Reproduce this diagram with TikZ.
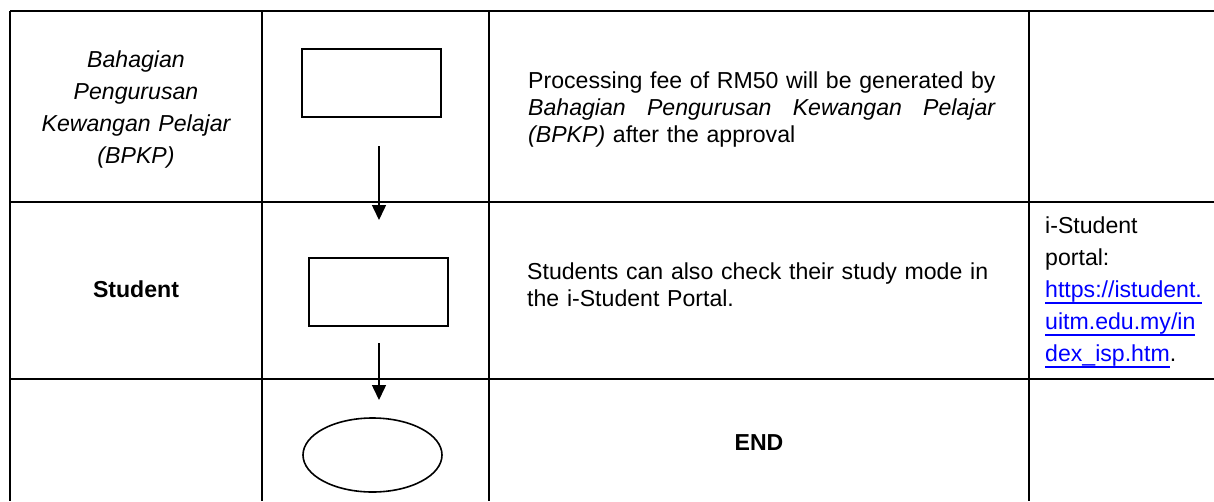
\documentclass[tikz,border=0pt]{standalone}
\usepackage{fontspec}
\setmainfont{Liberation Sans}
\usetikzlibrary{arrows.meta,shapes.geometric}
\definecolor{linkblue}{RGB}{0,0,255}
\newsavebox\lnkbox
\newcommand\lnk[1]{\leavevmode\sbox\lnkbox{\color{linkblue}#1}\rlap{\color{linkblue}\rule[-7pt]{\wd\lnkbox}{1.8pt}}\usebox\lnkbox}
\begin{document}
\begin{tikzpicture}[x=1pt,y=-1pt,
  grid/.style={line width=2pt},
  procbox/.style={draw,line width=2pt,minimum width=139pt,minimum height=68pt,inner sep=0pt},
  endshape/.style={draw,ellipse,line width=1.6pt,minimum width=139pt,minimum height=74pt,inner sep=0pt},
  flow/.style={line width=1.5pt,-{Triangle[width=14pt,length=15pt]}},
  txt/.style={inner sep=0pt,font=\fontsize{23.1}{27}\selectfont},
  lane/.style={inner sep=0pt,text width=250pt,align=center,font=\fontsize{23.1}{32}\selectfont}]
\useasboundingbox (0,0) rectangle (1214,501);
% table grid
\draw[grid] (10,11) -- (1214,11);
\draw[grid] (10,202) -- (1214,202);
\draw[grid] (10,379) -- (1214,379);
\draw[grid] (10,11) -- (10,501);
\draw[grid] (262,11) -- (262,501);
\draw[grid] (489,11) -- (489,501);
\draw[grid] (1029,11) -- (1029,501);
% lane labels
\node[lane,anchor=base] (bpkp) at (136,67) {\itshape Bahagian\\Pengurusan\\Kewangan Pelajar\\(BPKP)};
\node[lane,anchor=base] (student) at (136,297) {\bfseries Student};
% flow shapes
\node[procbox] (p1) at (371.5,83) {};
\node[procbox] (p2) at (378,291.5) {};
\node[endshape] (e1) at (372.5,455) {};
\coordinate (a1s) at (379,146);
\coordinate (a1e) at (379,220);
\coordinate (a2s) at (379,343);
\coordinate (a2e) at (379,400);
\draw[flow] (a1s) -- (a1e);
\draw[flow] (a2s) -- (a2e);
% descriptions
\node[txt,anchor=base west,text width=500pt,align=left] (d1) at (528,88)
  {Processing fee of RM50 will be generated by\\
   \makebox[467pt][l]{\itshape Bahagian\hfill Pengurusan\hfill Kewangan\hfill Pelajar}\\
   \textit{(BPKP)} after the approval};
\node[txt,anchor=base west,text width=500pt,align=left] (d2) at (527,279)
  {Students can also check their study mode in\\the i-Student Portal.};
\node[txt,anchor=base] (d3) at (759,450) {\bfseries END};
% remarks
\node[txt,anchor=base west,text width=175pt,align=left,font=\fontsize{23.1}{32}\selectfont] (r2) at (1045,233)
  {i-Student\\portal:\\\lnk{https://istudent.}\\\lnk{uitm.edu.my/in}\\\lnk{dex\_isp.htm}.};
\end{tikzpicture}
\end{document}
